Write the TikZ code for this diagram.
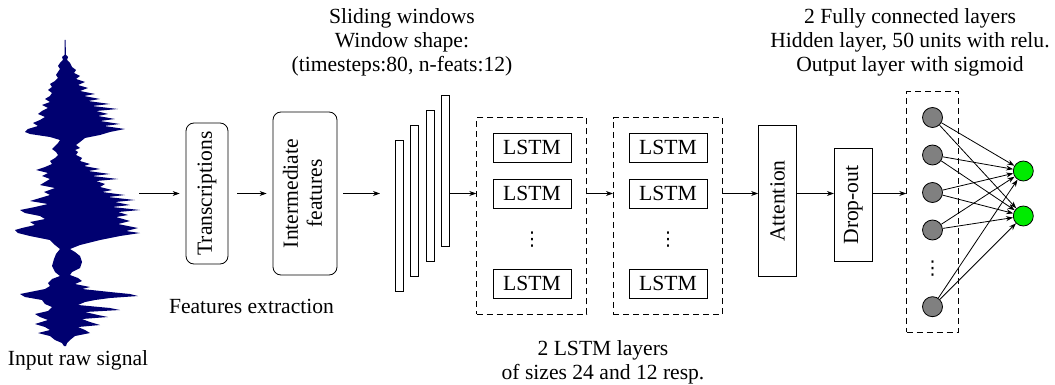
\documentclass[tikz,border=0pt]{standalone}
\usepackage{fontspec}
\setmainfont{Liberation Serif}
\newfontfamily\dotsfont{DejaVu Sans}
\usetikzlibrary{arrows.meta}
\definecolor{wavecol}{RGB}{0,0,112}
\definecolor{neurgray}{RGB}{128,128,128}
\definecolor{neurgreen}{RGB}{0,235,0}
\newcommand{\vdotsglyph}{{\dotsfont\fontsize{19}{19}\selectfont ⋮}}
\begin{document}
\begin{tikzpicture}[x=1pt,y=-1pt,
  font=\fontsize{21.6}{24}\selectfont,
  line width=0.8pt,
  arr/.style={-{Stealth[length=7pt,width=5pt]}},
  rbox/.style={draw, rounded corners=8pt, inner sep=0pt},
  sbox/.style={draw, inner sep=0pt},
  win/.style={draw, minimum width=8pt, minimum height=151pt, inner sep=0pt},
  dbox/.style={draw, dash pattern=on 6pt off 4pt, inner sep=0pt},
  lstm/.style={draw, minimum width=78pt, minimum height=29pt, inner sep=0pt},
  neur/.style={circle, draw, fill=neurgray, minimum size=20pt, inner sep=0pt},
  outn/.style={circle, draw, fill=neurgreen, minimum size=20pt, inner sep=0pt},
  txt/.style={inner sep=0pt, align=center}]
\useasboundingbox (0,0) rectangle (1055,385);

% waveform
\fill[wavecol] (65.5,40) -- (66,55) -- (68,57) -- (67,60) -- (70,63) -- (72,67) -- (76,70) -- (74,73) -- (80,76) -- (76,79) -- (85,82) -- (78,85) -- (88,88) -- (80,91) -- (95,94) -- (84,96) -- (100,99) -- (88,101) -- (110,104) -- (92,106) -- (118,109) -- (96,111) -- (108,114) -- (98,116) -- (115,119) -- (100,121) -- (120,124) -- (104,126) -- (125,129) -- (110,132) -- (100,135) -- (85,138) -- (80,142) -- (76,145) -- (80,148) -- (75,150) -- (78,152) -- (76,155) -- (82,158) -- (80,161) -- (90,164) -- (84,166) -- (100,169) -- (88,171) -- (110,174) -- (92,176) -- (118,179) -- (96,181) -- (105,184) -- (100,187) -- (112,190) -- (102,192) -- (125,195) -- (108,197) -- (135,200) -- (115,202) -- (130,205) -- (112,207) -- (140,210) -- (118,212) -- (128,215) -- (116,217) -- (130,221) -- (118,224) -- (138,228) -- (126,231) -- (140,233) -- (120,236) -- (100,240) -- (80,245) -- (70,249) -- (75,252) -- (80,256) -- (82,262) -- (80,268) -- (72,272) -- (70,275) -- (78,278) -- (82,281) -- (75,284) -- (90,287) -- (82,289) -- (110,292) -- (130,294) -- (138,296) -- (110,298) -- (95,300) -- (85,302) -- (78,305) -- (110,308) -- (120,310) -- (85,312) -- (98,315) -- (108,317) -- (82,319) -- (90,322) -- (100,325) -- (78,327) -- (85,330) -- (90,333) -- (75,336) -- (70,340) -- (67,343) -- (66,346)
 -- (64,346) -- (62,343) -- (55,340) -- (50,336) -- (38,333) -- (50,330) -- (45,327) -- (35,324) -- (48,320) -- (40,317) -- (35,314) -- (48,311) -- (52,307) -- (45,304) -- (42,300) -- (25,297) -- (20,294) -- (30,292) -- (45,289) -- (50,286) -- (48,283) -- (52,279) -- (60,276) -- (55,272) -- (52,266) -- (54,259) -- (56,254) -- (60,249) -- (55,245) -- (50,240) -- (30,236) -- (18,233) -- (15,230) -- (22,228) -- (35,225) -- (30,222) -- (45,219) -- (40,216) -- (25,213) -- (20,210) -- (35,207) -- (48,204) -- (30,201) -- (40,198) -- (50,195) -- (44,192) -- (55,188) -- (40,185) -- (45,182) -- (50,179) -- (42,176) -- (48,173) -- (36,170) -- (45,167) -- (52,164) -- (50,161) -- (55,158) -- (58,155) -- (56,152) -- (52,149) -- (55,146) -- (58,143) -- (60,140) -- (50,137) -- (30,134) -- (25,132) -- (28,129) -- (38,126) -- (33,123) -- (40,120) -- (45,117) -- (38,114) -- (42,111) -- (48,108) -- (42,105) -- (50,102) -- (45,99) -- (50,96) -- (52,93) -- (48,90) -- (52,87) -- (50,84) -- (55,81) -- (58,78) -- (56,75) -- (58,72) -- (60,69) -- (58,66) -- (60,63) -- (63,60) -- (62,57) -- (64.5,55) -- (64.5,40) -- cycle;
\node[anchor=base, inner sep=0pt] (inlbl) at (78,365) {Input raw signal};
\coordinate (wv) at (139,193.5);

% feature extraction
\node[rbox, minimum width=42pt, minimum height=141pt] (tr) at (207,193.5) {\rotatebox{90}{Transcriptions}};
\node[rbox, minimum width=64pt, minimum height=163pt] (if) at (305,193.5) {\rotatebox{90}{\begin{tabular}{@{}c@{}}Intermediate\\features\end{tabular}}};
\node[anchor=base, inner sep=0pt] (fe) at (251.5,313) {Features extraction};
\coordinate (wi) at (380,193.5);

% sliding windows
\node[win] (r1) at (399.5,216) {};
\node[win] (r2) at (414.5,201) {};
\node[win] (r3) at (430,186) {};
\node[win] (r4) at (445,170.5) {};
\node[txt, anchor=north] (sw) at (402,8) {Sliding windows\\Window shape:\\(timesteps:80, n-feats:12)};

% LSTM layers
\node[dbox, minimum width=110pt, minimum height=196.6pt] (d1) at (531.7,216) {};
\node[lstm] (l11) at (532,147.8) {LSTM};
\node[lstm] (l12) at (532,193.5) {LSTM};
\node[inner sep=0pt] (v1) at (532,240) {\vdotsglyph};
\node[lstm] (l13) at (532,283.8) {LSTM};
\node[dbox, minimum width=109.4pt, minimum height=196.6pt] (d2) at (668,216) {};
\node[lstm] (l21) at (668,147.8) {LSTM};
\node[lstm] (l22) at (668,193.5) {LSTM};
\node[inner sep=0pt] (v2) at (668,240) {\vdotsglyph};
\node[lstm] (l23) at (668,283.8) {LSTM};
\node[txt, anchor=north] (ls) at (603,340.3) {2 LSTM layers\\of sizes 24 and 12 resp.};

% attention / dropout
\node[sbox, minimum width=38pt, minimum height=151pt] (att) at (777.5,201.2) {\rotatebox{90}{Attention}};
\node[sbox, minimum width=38pt, minimum height=113pt] (do) at (853.3,205) {\rotatebox{90}{Drop-out}};

% fully connected
\node[dbox, minimum width=51.6pt, minimum height=240.6pt] (d3) at (932.5,212) {};
\node[neur] (g1) at (932.5,117.5) {};
\node[neur] (g2) at (932.5,155) {};
\node[neur] (g3) at (932.5,192.5) {};
\node[neur] (g4) at (932.5,230) {};
\node[inner sep=0pt] (v3) at (932.5,269) {\vdotsglyph};
\node[neur] (g5) at (932.5,306.7) {};
\node[outn] (o1) at (1023.3,171) {};
\node[outn] (o2) at (1023.3,216) {};
\node[txt, anchor=north] (fc) at (910,8) {2 Fully connected layers\\Hidden layer, 50 units with relu.\\Output layer with sigmoid};

% connectors
\draw[arr, shorten >=6pt] (wv) -- (tr);
\draw[arr, shorten <=9pt, shorten >=6pt] (tr) -- (if);
\draw[arr, shorten <=6pt] (if) -- (wi);
\draw[arr] (r4.east |- l12) -- (d1.west |- l12);
\draw[arr] (d1.east |- l12) -- (d2.west |- l12);
\draw[arr] (d2.east |- l12) -- (att.west |- l12);
\draw[arr] (att.east |- l12) -- (do.west |- l12);
\draw[arr] (do.east |- l12) -- (d3.west |- l12);
\foreach \g in {g1,g2,g3,g4,g5}
  \foreach \o in {o1,o2}
    \draw[arr] (\g) -- (\o);
\end{tikzpicture}
\end{document}
